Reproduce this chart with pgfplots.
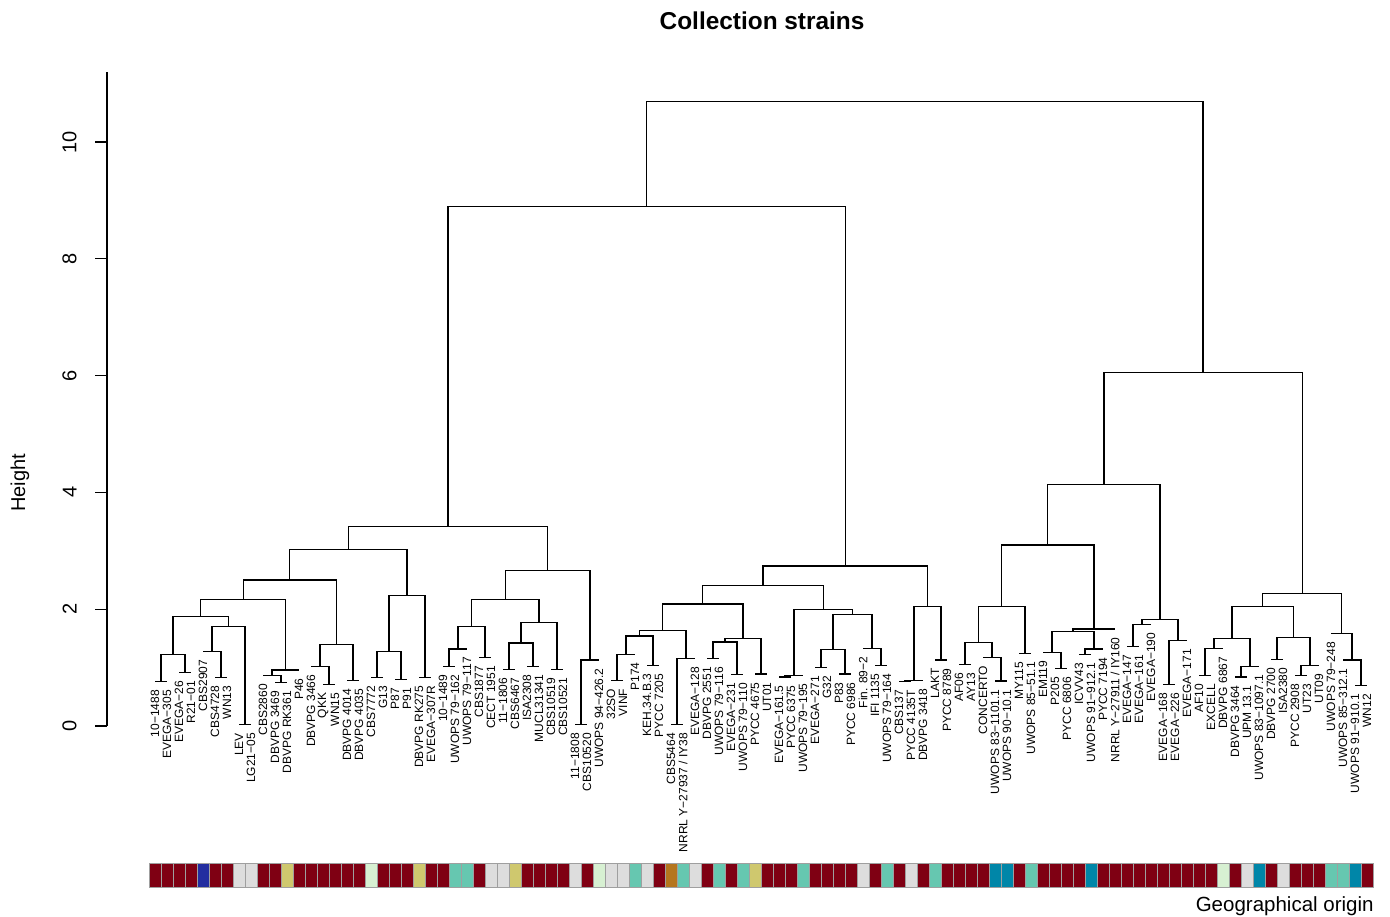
\documentclass[border=0pt]{standalone}
\usepackage{pgfplots}
\pgfplotsset{compat=1.18}
\usepackage{pgfplotstable}
\usepackage{fontspec}
\setmainfont{Liberation Sans}

\definecolor{geored}{RGB}{127,0,19}
\definecolor{geoblue}{RGB}{35,45,160}
\definecolor{geogrey}{RGB}{221,221,221}
\definecolor{geoyellow}{RGB}{207,200,110}
\definecolor{geolgreen}{RGB}{215,240,210}
\definecolor{geoteal}{RGB}{102,199,176}
\definecolor{geoorange}{RGB}{181,118,30}
\definecolor{geobteal}{RGB}{0,134,168}

\pgfplotstableread[col sep=comma]{
x,y,name
1,0.76,10−1488
2,0.76,EVEGA−305
3,0.91,EVEGA−26
4,0.91,R21−01
5,1.28,CBS2907
6,0.83,CBS4728
7,0.83,WN13
8,0.02,LEV
9,0.02,LG21−05
10,0.86,CBS2860
11,0.74,DBVPG 3469
12,0.74,DBVPG RK361
13,0.96,P46
14,1.02,DBVPG 3466
15,0.71,QKK
16,0.71,WN15
17,0.78,DBVPG 4014
18,0.78,DBVPG 4035
19,0.83,CBS7772
20,0.83,G13
21,0.80,P87
22,0.80,P91
23,0.83,DBVPG RK275
24,0.83,EVEGA−307R
25,1.02,10−1489
26,1.02,UWOPS 79−162
27,1.32,UWOPS 79−117
28,1.17,CBS1877
29,1.17,CECT 1951
30,0.97,11−1806
31,0.97,CBS6467
32,1.02,ISA2308
33,1.02,MUCL31341
34,0.97,CBS10519
35,0.97,CBS10521
36,0.02,11−1808
37,0.02,CBS10520
38,1.13,UWOPS 94−426.2
39,0.78,32SO
40,0.78,VINF
41,1.23,P174
42,1.04,KEH.34.B.3
43,1.04,PYCC 7205
44,0.02,CBS5464
45,0.02,NRRL Y−27937 / IY38
46,1.15,EVEGA−128
47,1.15,DBVPG 2551
48,1.15,UWOPS 79−116
49,0.88,EVEGA−231
50,0.88,UWOPS 79−110
51,0.89,PYCC 4675
52,0.89,UT01
53,0.84,EVEGA−161.5
54,0.84,PYCC 6375
55,0.87,UWOPS 79−195
56,1.00,EVEGA−271
57,1.00,G32
58,0.89,P83
59,0.89,PYCC 6986
60,1.33,Fin. 89−2
61,1.04,IFI 1135
62,1.04,UWOPS 79−164
63,0.76,CBS137
64,0.76,PYCC 4135T
65,0.78,DBVPG 3418
66,1.13,LAKT
67,1.13,PYCC 8789
68,1.05,AF06
69,1.05,AY13
70,1.17,CONCERTO
71,0.77,UWOPS 83−1101.1
72,0.77,UWOPS 90−10.1
73,1.24,MY115
74,1.24,UWOPS 85−51.1
75,1.26,EM119
76,0.98,P205
77,0.98,PYCC 6806
78,1.22,ICVV43
79,1.22,UWOPS 91−912.1
80,1.32,PYCC 7194
81,1.66,NRRL Y−27911 / IY160
82,1.36,EVEGA−147
83,1.36,EVEGA−161
84,1.74,EVEGA−190
85,0.71,EVEGA−168
86,0.71,EVEGA−226
87,1.46,EVEGA−171
88,0.86,AF10
89,0.86,EXCELL
90,1.33,DBVPG 6867
91,0.84,DBVPG 3464
92,0.84,UPM 13.1
93,1.02,UWOPS 83−1097.1
94,1.14,DBVPG 2700
95,1.14,ISA2380
96,0.86,PYCC 2908
97,0.86,UT23
98,1.03,UT09
99,1.58,UWOPS 79−248
100,1.13,UWOPS 85−312.1
101,0.69,UWOPS 91−910.1
102,0.69,WN12
}\leaves

% one merge: left child (x,h), right child (x,h), merge height
\newcommand{\U}[5]{\addplot[dend] coordinates {(#1,#2) (#1,#5) (#3,#5) (#3,#4)};}

\begin{document}
\begin{tikzpicture}
\begin{axis}[
  name=main,
  scale only axis, width=636pt, height=327pt,
  xmin=-3, xmax=103, ymin=0, ymax=11.2,
  axis y line*=left, axis x line=none,
  clip=false,
  ytick={0,2,4,6,8,10},
  tick align=outside, major tick length=6pt,
  tick style={black, line width=0.6pt},
  y axis line style={black, line width=0.6pt},
  /pgf/number format/assume math mode=true,
  yticklabel style={rotate=90, anchor=south, inner sep=0pt, font=\fontsize{10pt}{12pt}\selectfont},
  yticklabel shift=9pt,
  ylabel={Height},
  ylabel style={at={(axis description cs:-0.0684,0.3715)}, anchor=center, font=\fontsize{10pt}{12pt}\selectfont},
  title={Collection strains},
  title style={at={(axis description cs:0.515,1.078)}, anchor=center, yshift=-6pt, inner sep=0pt, font=\bfseries\fontsize{12.2pt}{14pt}\selectfont},
  dend/.style={black, line width=0.6pt, mark=none, line join=miter},
]
\path (axis cs:-11.917,12.433) rectangle (axis cs:103.917,-3.271);
% left cluster
\U{1}{.76}{2}{.76}{.76}
\U{3}{.91}{4}{.91}{.91}
\U{1.5}{.76}{3.5}{.91}{1.23}
\U{6}{.83}{7}{.83}{.83}
\U{5}{1.28}{6.5}{.83}{1.28}
\U{8}{.02}{9}{.02}{.02}
\U{5.75}{1.28}{8.5}{.02}{1.71}
\U{2.5}{1.23}{7.125}{1.71}{1.88}
\U{11}{.74}{12}{.74}{.74}
\U{10}{.86}{11.5}{.74}{.86}
\U{10.75}{.86}{13}{.96}{.96}
\U{4.8125}{1.88}{11.875}{.96}{2.17}
\U{15}{.71}{16}{.71}{.71}
\U{14}{1.02}{15.5}{.71}{1.02}
\U{17}{.78}{18}{.78}{.78}
\U{14.75}{1.02}{17.5}{.78}{1.40}
\U{8.34375}{2.17}{16.125}{1.40}{2.50}
\U{19}{.83}{20}{.83}{.83}
\U{21}{.80}{22}{.80}{.80}
\U{19.5}{.83}{21.5}{.80}{1.28}
\U{23}{.83}{24}{.83}{.83}
\U{20.5}{1.28}{23.5}{.83}{2.24}
\U{12.234375}{2.50}{22}{2.24}{3.02}
\U{25}{1.02}{26}{1.02}{1.02}
\U{25.5}{1.02}{27}{1.32}{1.32}
\U{28}{1.17}{29}{1.17}{1.17}
\U{26.25}{1.32}{28.5}{1.17}{1.71}
\U{30}{.97}{31}{.97}{.97}
\U{32}{1.02}{33}{1.02}{1.02}
\U{30.5}{.97}{32.5}{1.02}{1.42}
\U{34}{.97}{35}{.97}{.97}
\U{31.5}{1.42}{34.5}{.97}{1.77}
\U{27.375}{1.71}{33}{1.77}{2.16}
\U{36}{.02}{37}{.02}{.02}
\U{36.5}{.02}{38}{1.13}{1.13}
\U{30.1875}{2.16}{37.25}{1.13}{2.66}
\U{17.1171875}{3.02}{33.71875}{2.66}{3.41}
% middle cluster
\U{39}{.78}{40}{.78}{.78}
\U{39.5}{.78}{41}{1.23}{1.23}
\U{42}{1.04}{43}{1.04}{1.04}
\U{40.25}{1.23}{42.5}{1.04}{1.54}
\U{44}{.02}{45}{.02}{.02}
\U{44.5}{.02}{46}{1.15}{1.15}
\U{41.375}{1.54}{45.25}{1.15}{1.64}
\U{47}{1.15}{48}{1.15}{1.15}
\U{49}{.88}{50}{.88}{.88}
\U{47.5}{1.15}{49.5}{.88}{1.44}
\U{51}{.89}{52}{.89}{.89}
\U{48.5}{1.44}{51.5}{.89}{1.50}
\U{43.3125}{1.64}{50}{1.50}{2.09}
\U{53}{.84}{54}{.84}{.84}
\U{53.5}{.84}{55}{.87}{.87}
\U{56}{1}{57}{1}{1}
\U{58}{.89}{59}{.89}{.89}
\U{56.5}{1}{58.5}{.89}{1.31}
\U{61}{1.04}{62}{1.04}{1.04}
\U{60}{1.33}{61.5}{1.04}{1.33}
\U{57.5}{1.31}{60.75}{1.33}{1.91}
\U{54.25}{.87}{59.125}{1.91}{2.00}
\U{46.65625}{2.09}{56.6875}{2.00}{2.41}
\U{63}{.76}{64}{.76}{.76}
\U{63.5}{.76}{65}{.78}{.78}
\U{66}{1.13}{67}{1.13}{1.13}
\U{64.25}{.78}{66.5}{1.13}{2.05}
\U{51.671875}{2.41}{65.375}{2.05}{2.74}
\U{25.41796875}{3.41}{58.5234375}{2.74}{8.90}
% right cluster
\U{68}{1.05}{69}{1.05}{1.05}
\U{71}{.77}{72}{.77}{.77}
\U{70}{1.17}{71.5}{.77}{1.17}
\U{68.5}{1.05}{70.75}{1.17}{1.43}
\U{73}{1.24}{74}{1.24}{1.24}
\U{69.625}{1.43}{73.5}{1.24}{2.04}
\U{76}{.98}{77}{.98}{.98}
\U{75}{1.26}{76.5}{.98}{1.26}
\U{78}{1.22}{79}{1.22}{1.22}
\U{78.5}{1.22}{80}{1.32}{1.32}
\U{75.75}{1.26}{79.25}{1.32}{1.62}
\U{77.5}{1.62}{81}{1.66}{1.66}
\U{71.5625}{2.04}{79.25}{1.66}{3.10}
\U{82}{1.36}{83}{1.36}{1.36}
\U{82.5}{1.36}{84}{1.74}{1.74}
\U{85}{.71}{86}{.71}{.71}
\U{85.5}{.71}{87}{1.46}{1.46}
\U{83.25}{1.74}{86.25}{1.46}{1.83}
\U{75.40625}{3.10}{84.75}{1.83}{4.13}
\U{88}{.86}{89}{.86}{.86}
\U{88.5}{.86}{90}{1.33}{1.33}
\U{91}{.84}{92}{.84}{.84}
\U{91.5}{.84}{93}{1.02}{1.02}
\U{89.25}{1.33}{92.25}{1.02}{1.50}
\U{94}{1.14}{95}{1.14}{1.14}
\U{96}{.86}{97}{.86}{.86}
\U{96.5}{.86}{98}{1.03}{1.03}
\U{94.5}{1.14}{97.25}{1.03}{1.52}
\U{90.75}{1.50}{95.875}{1.52}{2.04}
\U{101}{.69}{102}{.69}{.69}
\U{100}{1.13}{101.5}{.69}{1.13}
\U{99}{1.58}{100.75}{1.13}{1.58}
\U{93.3125}{2.04}{99.875}{1.58}{2.27}
\U{80.078125}{4.13}{96.59375}{2.27}{6.06}
\U{41.970703125}{8.90}{88.3359375}{6.06}{10.70}
% leaf labels
\addplot[only marks, mark=none, nodes near coords, point meta=explicit symbolic,
  every node near coord/.append style={rotate=90, anchor=east, inner xsep=4pt, inner ysep=0pt,
  font=\fontsize{6pt}{7pt}\selectfont, text=black}]
  table[x=x, y=y, meta=name] {\leaves};
\end{axis}

\begin{axis}[
  at={(main.south west)}, anchor=north west, yshift=-69pt,
  scale only axis, width=636pt, height=12pt,
  xmin=-3, xmax=103, ymin=0, ymax=1,
  hide axis, clip=false,
  geo/.style={ybar, bar width=1, bar shift=0pt, draw=gray!75, line width=0.5pt},
]
\addplot[geo, fill=geored] coordinates {(1,1)(2,1)(3,1)(4,1)(6,1)(7,1)(10,1)(11,1)(13,1)(14,1)(15,1)(16,1)(17,1)(18,1)(20,1)(21,1)(22,1)(24,1)(25,1)(28,1)(32,1)(33,1)(34,1)(35,1)(37,1)(43,1)(47,1)(49,1)(52,1)(53,1)(54,1)(56,1)(57,1)(58,1)(59,1)(61,1)(63,1)(65,1)(67,1)(68,1)(69,1)(70,1)(73,1)(75,1)(76,1)(77,1)(78,1)(80,1)(81,1)(82,1)(83,1)(84,1)(85,1)(86,1)(87,1)(88,1)(89,1)(91,1)(94,1)(96,1)(97,1)(98,1)(102,1)};
\addplot[geo, fill=geoblue] coordinates {(5,1)};
\addplot[geo, fill=geogrey] coordinates {(8,1)(9,1)(29,1)(30,1)(36,1)(39,1)(40,1)(42,1)(46,1)(60,1)(64,1)(92,1)(95,1)};
\addplot[geo, fill=geoyellow] coordinates {(12,1)(23,1)(31,1)(51,1)};
\addplot[geo, fill=geolgreen] coordinates {(19,1)(38,1)(90,1)};
\addplot[geo, fill=geoteal] coordinates {(26,1)(27,1)(41,1)(45,1)(48,1)(50,1)(55,1)(62,1)(66,1)(74,1)(99,1)(100,1)};
\addplot[geo, fill=geoorange] coordinates {(44,1)};
\addplot[geo, fill=geobteal] coordinates {(71,1)(72,1)(79,1)(93,1)(101,1)};
\node[anchor=base east, inner sep=0pt, font=\fontsize{10.25pt}{12pt}\selectfont, yshift=-12pt] at (axis cs:102.58,0) {Geographical origin};
\end{axis}
\end{tikzpicture}
\end{document}
